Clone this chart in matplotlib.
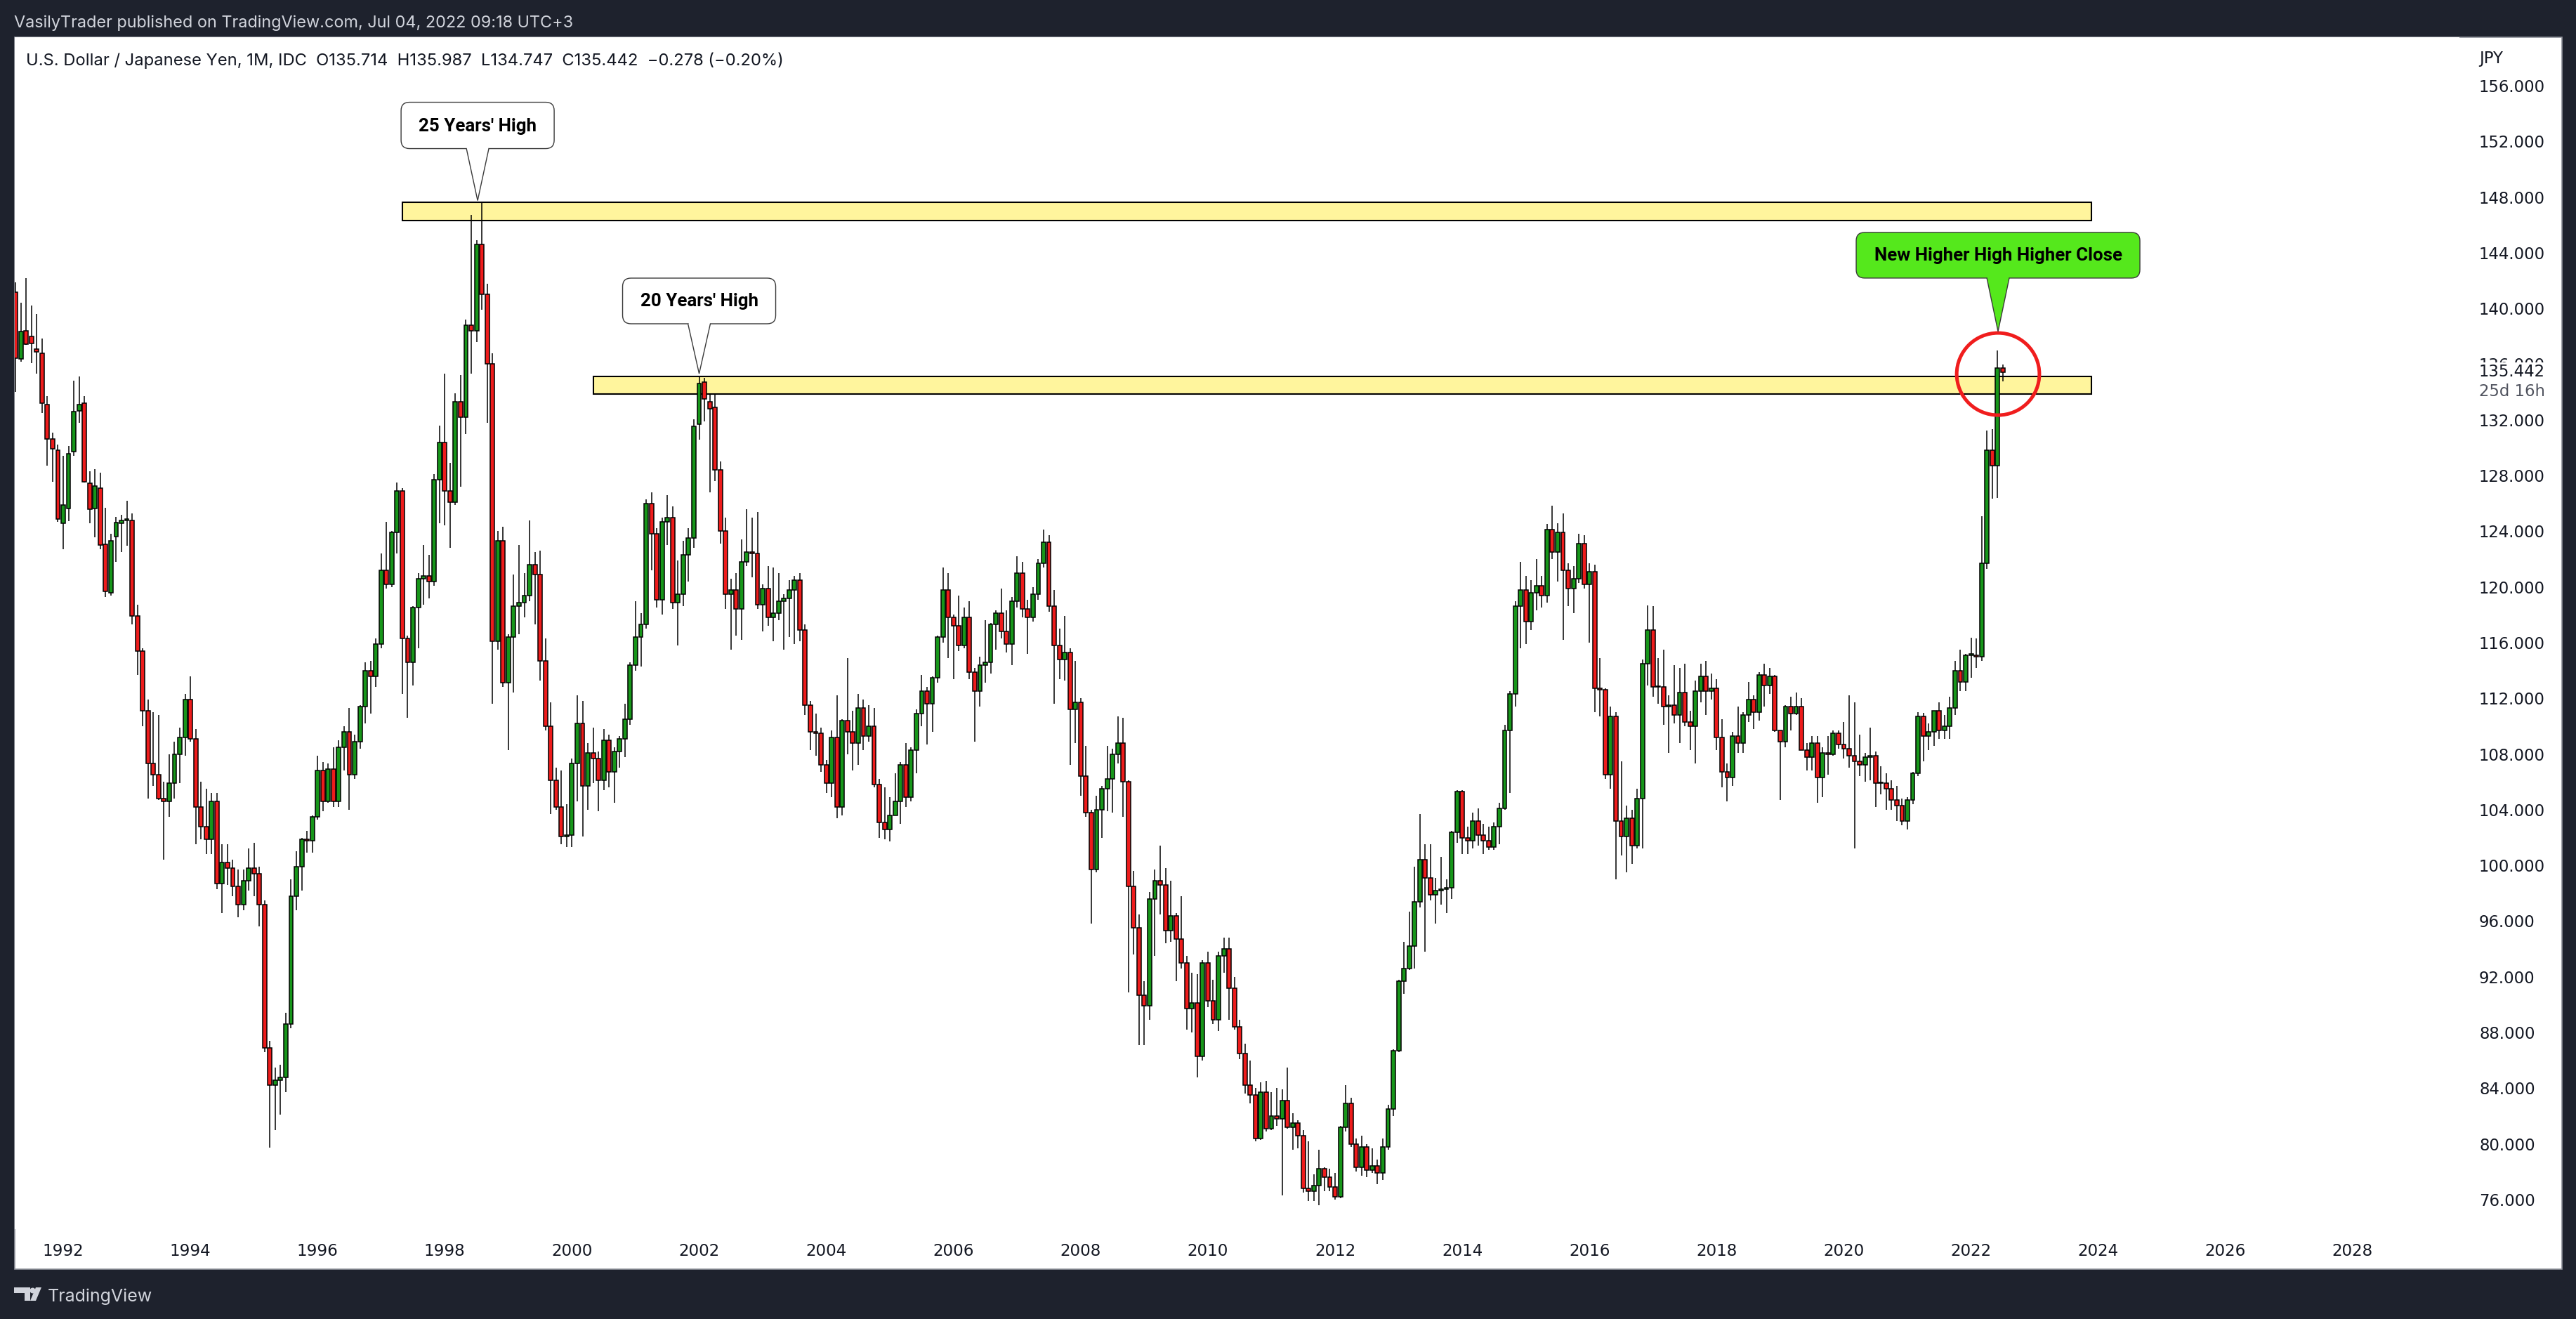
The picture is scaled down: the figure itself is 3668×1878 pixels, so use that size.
import matplotlib
matplotlib.use("Agg")
import matplotlib.pyplot as plt
from matplotlib.patches import Rectangle, FancyBboxPatch, Polygon, Ellipse, Circle
import numpy as np

W, H, DPI = 3668, 1878, 200

# USD/JPY monthly candles, Apr 1991 .. Jul 2022 (x = months since Jan 1992)
first_month = -9
opens = [
    141.15, 136.4, 138.4, 138.0, 137.1, 136.8, 133.1, 130.65, 129.8,
    124.6, 125.65, 129.7, 132.65, 133.2, 127.45, 125.65, 127.1, 123.05, 119.6, 123.6, 124.6,
    124.8, 124.8, 117.9, 115.4, 111.1, 107.3, 106.5, 104.8, 104.6, 105.9, 108.0, 109.2,
    111.9, 109.1, 104.2, 102.8, 101.9, 104.6, 98.7, 100.2, 99.8, 98.5, 97.2, 98.9,
    99.8, 99.4, 97.2, 86.9, 84.2, 84.6, 84.8, 88.6, 97.8, 99.9, 101.9, 101.8,
    103.5, 106.8, 104.6, 106.9, 104.6, 108.5, 109.6, 106.5, 108.9, 111.4, 114.0, 113.6,
    115.9, 121.2, 120.2, 123.9, 126.9, 116.3, 114.6, 118.5, 120.6, 120.8, 120.4, 127.7,
    130.4, 126.9, 126.1, 133.3, 132.2, 138.8, 138.4, 144.6, 141.0, 136.0, 116.1, 123.3,
    113.1, 116.4, 118.6, 118.9, 119.4, 121.6, 120.9, 114.7, 110.0, 106.1, 104.2, 102.1,
    102.2, 107.3, 110.2, 105.7, 108.1, 107.7, 106.1, 109.0, 106.7, 108.2, 109.1, 110.5,
    114.4, 116.4, 117.3, 126.0, 123.8, 119.1, 124.7, 125.0, 118.9, 119.5, 122.3, 123.5,
    131.7, 134.7, 133.3, 132.9, 128.4, 124.0, 119.5, 119.8, 118.4, 121.8, 122.5, 122.4,
    118.7, 119.9, 117.8, 118.1, 119.0, 119.2, 119.8, 120.5, 116.9, 111.5, 109.6, 109.5,
    107.2, 105.9, 109.2, 104.2, 110.4, 109.6, 108.8, 111.3, 109.3, 110.0, 105.8, 103.1,
    102.6, 103.6, 104.6, 107.2, 104.9, 108.3, 110.9, 112.5, 111.6, 113.5, 116.4, 119.8,
    117.8, 117.2, 115.8, 117.8, 113.9, 112.5, 114.4, 114.6, 117.3, 118.1, 116.8, 115.9,
    119.0, 121.0, 118.4, 117.8, 119.5, 121.7, 123.2, 118.6, 115.8, 114.8, 115.3, 111.2,
    111.7, 106.4, 103.8, 99.7, 104.0, 105.5, 106.2, 108.0, 108.8, 106.0, 98.5, 95.5,
    90.7, 89.9, 97.6, 98.9, 98.6, 95.3, 96.4, 94.7, 93.0, 89.7, 90.1, 86.3,
    93.0, 90.3, 88.9, 93.5, 94.0, 91.2, 88.4, 86.5, 84.2, 83.5, 80.4, 83.7,
    81.1, 82.0, 81.8, 83.1, 81.2, 81.5, 80.6, 76.8, 76.6, 77.0, 78.2, 77.6,
    76.9, 76.2, 81.2, 82.9, 80.0, 78.3, 79.8, 78.1, 78.4, 77.9, 79.8, 82.5,
    86.7, 91.7, 92.6, 94.2, 97.4, 100.4, 99.1, 97.9, 98.2, 98.3, 98.4, 102.4,
    105.3, 102.0, 101.8, 103.2, 102.2, 101.8, 101.3, 102.8, 104.1, 109.7, 112.3, 118.6,
    119.8, 117.5, 119.6, 120.1, 119.4, 124.1, 122.5, 123.9, 121.2, 119.9, 120.6, 123.1,
    120.2, 121.1, 112.7, 112.6, 106.5, 110.7, 103.2, 102.1, 103.4, 101.4, 104.8, 114.5,
    116.9, 112.8, 112.8, 111.4, 111.5, 110.8, 112.4, 110.3, 110.0, 112.5, 113.6, 112.5,
    112.7, 109.2, 106.7, 106.3, 109.3, 108.8, 110.8, 111.9, 111.0, 113.7, 112.9, 113.6,
    109.7, 108.9, 111.4, 110.9, 111.4, 108.3, 107.8, 108.8, 106.3, 108.1, 108.0, 109.5,
    108.7, 108.4, 107.9, 107.5, 107.2, 107.8, 107.9, 105.9, 105.9, 105.5, 104.7, 104.3,
    103.2, 104.7, 106.6, 110.7, 109.3, 109.6, 111.1, 109.7, 110.0, 111.3, 114.0, 113.2,
    115.1, 115.1, 115.0, 121.7, 129.8, 128.7, 135.714,
]
highs = [
    141.9, 140.4, 142.2, 140.2, 139.6, 137.85, 133.7, 131.1, 130.2,
    129.4, 130.1, 134.8, 135.1, 133.7, 128.3, 128.45, 128.2, 125.7, 123.8, 125.05, 125.2,
    126.2, 125.3, 118.7, 115.6, 111.9, 111.0, 110.8, 106.0, 108.0, 108.9, 109.9, 112.3,
    113.6, 109.8, 106.0, 105.5, 105.2, 105.2, 101.5, 101.5, 100.4, 99.7, 99.7, 101.2,
    101.6, 99.9, 97.5, 87.4, 85.5, 85.7, 89.4, 99.0, 101.0, 102.0, 102.5, 103.6,
    107.9, 107.4, 107.3, 108.5, 109.0, 110.0, 111.3, 109.4, 111.5, 114.6, 114.7, 116.3,
    122.4, 124.7, 124.0, 127.5, 127.1, 116.5, 118.6, 121.0, 123.0, 122.3, 128.1, 131.6,
    135.3, 128.9, 133.9, 135.2, 139.2, 146.7, 144.9, 147.66, 141.8, 136.8, 124.0, 124.3,
    116.6, 120.9, 123.0, 121.0, 124.8, 122.5, 122.6, 116.3, 111.7, 107.0, 106.8, 104.4,
    107.7, 112.2, 111.8, 108.8, 109.9, 108.2, 109.8, 109.4, 108.5, 109.3, 111.6, 114.6,
    119.0, 118.1, 126.3, 126.8, 124.2, 125.0, 126.6, 125.8, 121.9, 123.3, 124.2, 132.05,
    135.1, 135.0, 133.8, 133.8, 129.0, 125.0, 120.6, 121.0, 123.4, 125.6, 125.0, 125.4,
    120.2, 121.5, 121.4, 121.0, 119.5, 120.5, 120.8, 121.0, 117.3, 111.8, 110.9, 109.9,
    107.6, 109.7, 112.2, 110.5, 114.9, 111.1, 112.3, 111.9, 111.5, 111.3, 106.2, 105.6,
    104.9, 106.6, 107.4, 108.8, 108.5, 111.2, 113.7, 112.8, 113.6, 116.5, 121.4, 121.0,
    118.0, 119.4, 118.5, 119.0, 114.2, 115.0, 117.6, 117.4, 118.3, 119.9, 118.3, 119.3,
    122.2, 121.8, 119.1, 120.0, 122.0, 124.1, 123.7, 119.8, 117.0, 117.9, 115.6, 114.7,
    112.0, 108.6, 104.0, 105.0, 105.7, 108.6, 108.4, 110.7, 110.6, 106.1, 99.6, 96.5,
    91.7, 98.1, 99.7, 101.4, 99.8, 98.9, 96.6, 97.8, 93.5, 92.3, 92.2, 93.2,
    93.8, 91.8, 93.8, 94.8, 94.8, 92.0, 88.9, 87.2, 86.0, 84.0, 84.4, 84.5,
    83.7, 84.0, 83.9, 85.5, 82.2, 81.7, 81.0, 80.2, 77.8, 79.6, 78.3, 78.2,
    77.9, 81.3, 84.2, 83.3, 80.4, 80.6, 80.0, 79.7, 78.9, 80.4, 82.8, 86.8,
    91.8, 94.5, 96.7, 99.9, 103.7, 101.5, 101.5, 99.1, 100.6, 99.0, 102.5, 105.4,
    105.4, 102.8, 103.8, 104.1, 103.0, 102.8, 103.1, 104.5, 110.1, 112.5, 119.0, 121.8,
    120.8, 120.5, 122.0, 120.8, 124.5, 125.86, 124.6, 125.3, 121.7, 121.5, 123.8, 123.7,
    121.7, 121.6, 114.9, 112.7, 111.4, 111.0, 107.5, 104.3, 104.0, 105.5, 114.8, 118.66,
    118.6, 114.9, 115.5, 112.2, 114.4, 114.2, 114.5, 111.1, 113.3, 114.5, 114.7, 113.8,
    113.4, 110.5, 107.3, 109.6, 111.4, 111.0, 113.2, 112.2, 113.9, 114.5, 114.2, 113.7,
    109.7, 111.5, 112.1, 112.4, 112.0, 108.8, 109.3, 109.3, 108.5, 109.3, 109.7, 109.7,
    110.3, 112.2, 111.7, 109.4, 108.1, 109.9, 108.2, 107.1, 106.6, 106.1, 105.7, 104.8,
    104.9, 106.7, 111.0, 110.96, 110.2, 111.1, 111.7, 110.8, 112.1, 114.7, 115.5, 115.2,
    116.35, 116.3, 125.1, 131.25, 131.35, 137.0, 135.987,
]
lows = [
    134.0, 136.2, 137.4, 136.1, 135.3, 132.5, 128.7, 127.55, 124.7,
    122.7, 124.75, 129.4, 131.8, 127.5, 124.55, 123.55, 122.7, 119.3, 119.4, 121.8, 122.5,
    122.95, 117.3, 113.7, 110.0, 104.8, 105.7, 104.7, 100.4, 103.5, 104.8, 105.9, 107.9,
    108.9, 101.5, 101.9, 100.8, 100.8, 98.3, 96.6, 98.6, 97.8, 96.3, 96.8, 98.2,
    97.8, 95.6, 86.6, 79.75, 81.0, 82.1, 83.7, 88.3, 96.8, 98.2, 100.9, 100.9,
    103.3, 103.9, 104.5, 104.2, 104.2, 106.8, 104.0, 106.2, 108.4, 110.2, 110.9, 112.8,
    115.6, 119.9, 120.0, 122.4, 112.3, 110.6, 112.9, 115.6, 118.7, 119.2, 120.1, 124.6,
    124.4, 122.8, 125.9, 127.2, 131.0, 135.3, 137.6, 139.9, 131.8, 111.6, 115.5, 112.8,
    108.3, 112.4, 116.6, 117.8, 119.0, 117.3, 113.3, 109.7, 103.7, 104.0, 101.5, 101.3,
    101.3, 104.6, 102.1, 104.0, 105.9, 103.9, 105.4, 105.6, 104.5, 107.0, 107.8, 110.1,
    114.0, 114.3, 117.0, 121.2, 118.5, 118.0, 123.0, 118.4, 115.8, 118.6, 120.4, 122.8,
    130.6, 131.9, 126.8, 127.6, 123.1, 118.4, 115.5, 116.5, 116.2, 121.5, 120.7, 118.4,
    116.8, 117.2, 116.1, 117.6, 115.5, 116.4, 115.9, 116.1, 110.8, 108.3, 107.9, 106.7,
    105.2, 104.9, 103.4, 103.6, 108.0, 106.8, 107.2, 108.3, 108.9, 105.6, 102.0, 101.9,
    101.7, 103.6, 103.0, 104.2, 104.6, 106.6, 110.0, 108.7, 109.6, 113.1, 116.0, 114.9,
    113.4, 115.4, 115.6, 113.4, 108.9, 111.4, 113.1, 113.8, 115.5, 116.3, 115.3, 114.4,
    118.5, 117.8, 115.2, 117.5, 119.1, 121.4, 118.2, 111.6, 113.4, 113.3, 107.2, 108.8,
    105.0, 103.5, 95.8, 99.5, 102.0, 103.9, 103.8, 107.3, 103.5, 90.9, 93.6, 87.1,
    87.1, 88.9, 93.5, 96.5, 94.4, 94.5, 91.7, 92.6, 88.2, 88.0, 84.8, 86.0,
    89.8, 88.6, 88.1, 92.3, 88.9, 88.2, 86.1, 83.6, 82.9, 80.2, 80.3, 80.9,
    81.0, 81.3, 76.3, 81.1, 79.6, 79.7, 76.5, 75.9, 75.9, 75.6, 76.6, 76.6,
    76.0, 76.1, 80.9, 79.8, 78.0, 77.7, 77.6, 77.9, 77.1, 77.4, 79.6, 82.0,
    86.6, 90.8, 92.5, 92.6, 97.0, 93.8, 97.5, 95.8, 97.2, 96.6, 97.6, 101.6,
    100.8, 100.8, 101.2, 101.4, 100.8, 101.1, 101.1, 101.5, 104.0, 105.2, 111.4, 115.6,
    115.9, 116.9, 118.3, 118.5, 118.9, 122.0, 120.4, 116.2, 118.6, 118.1, 120.3, 119.9,
    116.0, 111.0, 110.7, 106.2, 105.5, 99.0, 100.7, 99.5, 100.1, 101.2, 101.2, 112.9,
    112.1, 111.6, 110.1, 108.1, 110.2, 108.8, 110.0, 108.3, 107.3, 111.7, 110.8, 111.9,
    108.3, 105.6, 104.6, 105.7, 108.1, 108.1, 110.3, 109.8, 110.4, 111.4, 112.3, 109.6,
    104.7, 108.5, 109.7, 110.8, 108.3, 106.8, 106.8, 104.5, 104.9, 106.5, 107.9, 108.4,
    107.7, 107.0, 101.2, 106.4, 106.0, 106.1, 104.2, 105.1, 104.0, 104.0, 103.2, 102.9,
    102.6, 104.4, 106.4, 107.5, 108.3, 108.6, 109.1, 109.1, 109.1, 110.8, 112.5, 112.5,
    113.5, 114.2, 114.7, 121.3, 126.35, 126.4, 134.747,
]
closes = [
    136.45, 138.36, 137.45, 137.5, 136.9, 133.2, 130.65, 129.9, 124.9,
    125.9, 129.55, 132.6, 133.1, 127.55, 125.6, 127.25, 123.0, 119.7, 123.3, 124.65, 124.8,
    124.85, 117.9, 115.4, 111.1, 107.3, 106.5, 104.8, 104.6, 105.9, 108.0, 109.2, 111.9,
    109.1, 104.2, 102.8, 101.9, 104.6, 98.7, 100.2, 99.8, 98.5, 97.2, 98.9, 99.8,
    99.4, 97.2, 86.9, 84.2, 84.6, 84.8, 88.6, 97.8, 99.9, 101.9, 101.8, 103.5,
    106.8, 104.6, 106.9, 104.6, 108.5, 109.6, 106.5, 108.9, 111.4, 114.0, 113.6, 115.9,
    121.2, 120.2, 123.9, 126.9, 116.3, 114.6, 118.5, 120.6, 120.8, 120.4, 127.7, 130.4,
    126.9, 126.1, 133.3, 132.2, 138.8, 138.4, 144.6, 141.0, 136.0, 116.1, 123.3, 113.1,
    116.4, 118.6, 118.9, 119.4, 121.6, 120.9, 114.7, 110.0, 106.1, 104.2, 102.1, 102.2,
    107.3, 110.2, 105.7, 108.1, 107.7, 106.1, 109.0, 106.7, 108.2, 109.1, 110.5, 114.4,
    116.4, 117.3, 126.0, 123.8, 119.1, 124.7, 125.0, 118.9, 119.5, 122.3, 123.5, 131.55,
    134.6, 133.5, 132.8, 128.4, 124.0, 119.5, 119.8, 118.4, 121.8, 122.5, 122.4, 118.7,
    119.9, 117.8, 118.1, 119.0, 119.2, 119.8, 120.5, 116.9, 111.5, 109.6, 109.5, 107.2,
    105.9, 109.2, 104.2, 110.4, 109.6, 108.8, 111.3, 109.3, 110.0, 105.8, 103.1, 102.6,
    103.6, 104.6, 107.2, 104.9, 108.3, 110.9, 112.5, 111.6, 113.5, 116.4, 119.8, 117.8,
    117.2, 115.8, 117.8, 113.9, 112.5, 114.4, 114.6, 117.3, 118.1, 116.8, 115.9, 119.0,
    121.0, 118.4, 117.8, 119.5, 121.7, 123.2, 118.6, 115.8, 114.8, 115.3, 111.2, 111.7,
    106.4, 103.8, 99.7, 104.0, 105.5, 106.2, 108.0, 108.8, 106.0, 98.5, 95.5, 90.7,
    89.9, 97.6, 98.9, 98.6, 95.3, 96.4, 94.7, 93.0, 89.7, 90.1, 86.3, 93.0,
    90.3, 88.9, 93.5, 94.0, 91.2, 88.4, 86.5, 84.2, 83.5, 80.4, 83.7, 81.1,
    82.0, 81.8, 83.1, 81.2, 81.5, 80.6, 76.8, 76.6, 77.0, 78.2, 77.6, 76.9,
    76.2, 81.2, 82.9, 80.0, 78.3, 79.8, 78.1, 78.4, 77.9, 79.8, 82.5, 86.7,
    91.7, 92.6, 94.2, 97.4, 100.4, 99.1, 97.9, 98.2, 98.3, 98.4, 102.4, 105.3,
    102.0, 101.8, 103.2, 102.2, 101.8, 101.3, 102.8, 104.1, 109.7, 112.3, 118.6, 119.8,
    117.5, 119.6, 120.1, 119.4, 124.1, 122.5, 123.9, 121.2, 119.9, 120.6, 123.1, 120.2,
    121.1, 112.7, 112.6, 106.5, 110.7, 103.2, 102.1, 103.4, 101.4, 104.8, 114.5, 116.9,
    112.8, 112.8, 111.4, 111.5, 110.8, 112.4, 110.3, 110.0, 112.5, 113.6, 112.5, 112.7,
    109.2, 106.7, 106.3, 109.3, 108.8, 110.8, 111.9, 111.0, 113.7, 112.9, 113.6, 109.7,
    108.9, 111.4, 110.9, 111.4, 108.3, 107.8, 108.8, 106.3, 108.1, 108.0, 109.5, 108.7,
    108.4, 107.9, 107.5, 107.2, 107.8, 107.9, 105.9, 105.9, 105.5, 104.7, 104.3, 103.2,
    104.7, 106.6, 110.7, 109.3, 109.6, 111.1, 109.7, 110.0, 111.3, 114.0, 113.2, 115.1,
    115.1, 115.0, 121.7, 129.8, 128.7, 135.7, 135.442,
]
assert len(opens) == len(highs) == len(lows) == len(closes)

years = list(range(1992, 2029, 2))
price_ticks = list(range(76, 157, 4))
last_price = 135.442

# drawings: (month from, month to, price low, price high)
zones = [(64.0, 382.7, 146.3, 147.62), (100.05, 382.7, 133.88, 135.14)]
# callouts: text, anchor month, anchor price, box w/h and gap in px, fill
callouts = [
    ("25 Years' High", 78.2, 147.75, 218, 66, 74, "white"),
    ("20 Years' High", 120.0, 135.32, 218, 65, 71, "white"),
    ("New Higher High Higher Close", 365.1, 138.35, 404, 65, 76, "#55e81c"),
]
circle = (365.1, 135.29, 15.6, 5.9)

# picture geometry (px from top-left)
PANEL = (21, 53, 3648, 1807)
PLOT = (21, 53, 3502, 1750)
X_JAN92, PX_MONTH = 90, 7.546
Y_156, PX_YEN = 122, 19.825

BG = "#1e222d"
TXT = "#131722"
LIGHT = "#d1d4dc"


def fx(x):
    return x / W


def fy(y):
    return 1 - y / H


def inch(x, y):
    return (x / DPI, (H - y) / DPI)


fig = plt.figure(figsize=(W / DPI, H / DPI), dpi=DPI, facecolor=BG)
fig.add_artist(Rectangle((fx(PANEL[0]), fy(PANEL[3])), (PANEL[2] - PANEL[0]) / W,
                         (PANEL[3] - PANEL[1]) / H, transform=fig.transFigure,
                         facecolor="white", edgecolor="#8f929b", lw=0.6, zorder=-1))

ax = fig.add_axes([fx(PLOT[0]), fy(PLOT[3]), (PLOT[2] - PLOT[0]) / W, (PLOT[3] - PLOT[1]) / H])
ax.set_xlim((PLOT[0] - X_JAN92) / PX_MONTH, (PLOT[2] - X_JAN92) / PX_MONTH)
ax.set_ylim(156 - (PLOT[3] - Y_156) / PX_YEN, 156 + (Y_156 - PLOT[1]) / PX_YEN)
ax.set_facecolor("white")
for s in ax.spines.values():
    s.set_visible(False)

# candles
x = np.arange(len(closes)) + first_month
o = np.array(opens)
c = np.array(closes)
up = c >= o
colors = np.where(up, "#17961a", "#ee1c1c")
ax.vlines(x, lows, highs, color="black", lw=0.55, zorder=2)
ax.bar(x, np.maximum(np.abs(c - o), 0.08), bottom=np.minimum(o, c), width=0.78,
       color=colors, edgecolor="black", linewidth=0.55, zorder=3)

# yellow zones and the red circle
for x0, x1, y0, y1 in zones:
    ax.add_patch(Rectangle((x0, y0), x1 - x0, y1 - y0, facecolor="#fff59d",
                           edgecolor="black", lw=0.75, zorder=1))
ax.add_patch(Ellipse(circle[:2], circle[2], circle[3], fill=False,
                     edgecolor="#f01d1d", lw=1.8, zorder=4))

# axes ticks
ax.set_xticks([(yr - 1992) * 12 for yr in years])
ax.set_xticklabels([str(yr) for yr in years])
ax.set_yticks(price_ticks)
ax.set_yticklabels([f"{p:.3f}" for p in price_ticks])
ax.yaxis.tick_right()
ax.tick_params(axis="x", length=0, pad=7.2, labelsize=8.3, labelcolor=TXT)
ax.tick_params(axis="y", length=0, pad=(3530 - PLOT[2]) * 72 / DPI, labelsize=8.2, labelcolor=TXT)

# callouts
for text, n, price, bw, bh, gap, fc in callouts:
    tx, ty = ax.transData.transform((n, price))
    ty = H - ty
    bottom = ty - gap
    top = bottom - bh
    fig.add_artist(FancyBboxPatch(inch(tx - bw / 2, bottom), bw / DPI, bh / DPI,
                                  boxstyle="round,pad=0,rounding_size=0.06",
                                  transform=fig.dpi_scale_trans, facecolor=fc,
                                  edgecolor="#3a3a3a", lw=0.5, zorder=5))
    fig.add_artist(Rectangle(inch(tx - 15, bottom + 1.5), 30 / DPI, 3 / DPI,
                             transform=fig.dpi_scale_trans, facecolor=fc,
                             edgecolor="none", zorder=6))
    fig.add_artist(Polygon([inch(tx - 16, bottom - 0.3), inch(tx, ty), inch(tx + 16, bottom - 0.3)],
                           closed=False, transform=fig.dpi_scale_trans, facecolor=fc,
                           edgecolor="#3a3a3a", lw=0.5, zorder=6))
    fig.text(fx(tx), fy(top + bh / 2 + 1), text, ha="center", va="center", fontsize=9.3,
             fontweight="bold", family=["Roboto", "DejaVu Sans"], color="black", zorder=7)

# last price label on the scale
_, ly = ax.transData.transform((0, last_price))
ly = H - ly
fig.add_artist(Rectangle((fx(3506), fy(ly + 45)), (3646 - 3506) / W, 59 / H,
                         transform=fig.transFigure, facecolor="white", edgecolor="none", zorder=2))
fig.text(fx(3530), fy(ly), f"{last_price:.3f}", ha="left", va="center", fontsize=8.2,
         color=TXT, zorder=3)
fig.text(fx(3530), fy(ly + 28), "25d 16h", ha="left", va="center", fontsize=8.2,
         color="#50535e", zorder=3)
fig.text(fx(3530), fy(90), "JPY", ha="left", va="baseline", fontsize=8.2, color=TXT)

# header and legend
fig.text(fx(20), fy(38.5), "VasilyTrader published on TradingView.com, Jul 04, 2022 09:18 UTC+3",
         ha="left", va="baseline", fontsize=8.45, color=LIGHT, family=["Inter", "DejaVu Sans"])
fig.text(fx(37), fy(93), "U.S. Dollar / Japanese Yen, 1M, IDC  O135.714  H135.987  L134.747  "
         "C135.442  \u22120.278 (\u22120.20%)", ha="left", va="baseline", fontsize=8.55,
         color=TXT, family=["Inter", "DejaVu Sans"])

# footer logo
fig.add_artist(Polygon([inch(20, 1833), inch(43, 1833), inch(43, 1852), inch(35, 1852),
                        inch(35, 1841), inch(20, 1841)], closed=True,
                       transform=fig.dpi_scale_trans, facecolor=LIGHT, edgecolor="none"))
fig.add_artist(Circle(inch(46.5, 1837.5), 4 / DPI, transform=fig.dpi_scale_trans,
                      facecolor=LIGHT, edgecolor="none"))
fig.add_artist(Polygon([inch(51, 1833), inch(59, 1833), inch(51, 1852), inch(43, 1852)],
                       closed=True, transform=fig.dpi_scale_trans, facecolor=LIGHT,
                       edgecolor="none"))
fig.text(fx(68), fy(1852.5), "TradingView", ha="left", va="baseline", fontsize=9.0,
         color=LIGHT, family=["Inter", "DejaVu Sans"])

fig.savefig("out.png", dpi=DPI, facecolor=BG)
